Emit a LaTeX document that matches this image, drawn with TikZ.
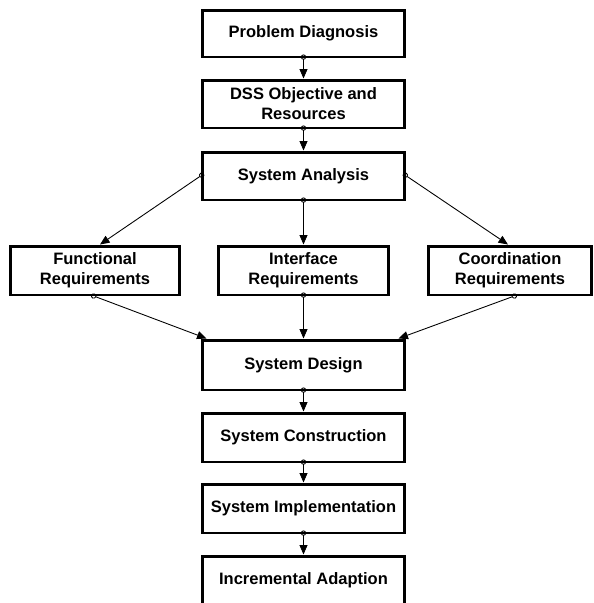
\documentclass[tikz,border=0pt]{standalone}
\usepackage{fontspec}
\setmainfont{Liberation Sans}
\usepackage{tikz}
\usetikzlibrary{arrows.meta,positioning}
\tikzstyle{phase} = [draw, line width=1.7pt, align=center, inner sep=0pt, font=\fontsize{9.4}{11.4}\selectfont\bfseries]
\tikzstyle{flow} = [line width=0.5pt, {Circle[open,length=3pt,line width=0.5pt]}-{Triangle[length=0.19cm,width=0.16cm]}, shorten <=-2.3pt]

\begin{document}
\begin{tikzpicture}[x=0.02cm, y=-0.02cm]
\useasboundingbox (0,0) rectangle (593,603);

% Main column
\node[phase, minimum width=4.06cm, minimum height=0.94cm] (diag) at (303.5,33.5) {Problem Diagnosis};
\node[phase, minimum width=4.06cm, minimum height=0.96cm] (dss) at (303.5,104) {DSS Objective and\\Resources};
\node[phase, minimum width=4.06cm, minimum height=0.96cm] (ana) at (303.5,176) {System Analysis};

% Requirements
\node[phase, minimum width=3.4cm, minimum height=0.98cm] (func) at (95,270.5) {Functional\\Requirements};
\node[phase, minimum width=3.42cm, minimum height=0.98cm] (intf) at (303.5,270.5) {Interface\\Requirements};
\node[phase, minimum width=3.28cm, minimum height=0.98cm] (coord) at (510,270.5) {Coordination\\Requirements};

% Lower column
\node[phase, minimum width=4.06cm, minimum height=1.0cm] (design) at (303.5,365) {System Design};
\node[phase, minimum width=4.06cm, minimum height=0.98cm] (constr) at (303.5,437.5) {System Construction};
\node[phase, minimum width=4.06cm, minimum height=0.98cm] (impl) at (303.5,508.5) {System Implementation};
\node[phase, minimum width=4.06cm, minimum height=0.96cm] (incr) at (303.5,580) {Incremental Adaption};

% Connectors
\draw[flow] (diag) -- (dss);
\draw[flow] (dss) -- (ana);
\draw[flow] (ana.west) -- ([xshift=0.1cm]func.north);
\draw[flow] (ana.south) -- (intf.north);
\draw[flow] (ana.east) -- ([xshift=-0.04cm]coord.north);
\draw[flow] (func.south) -- ([xshift=0.12cm]design.north west);
\draw[flow] (intf.south) -- (design.north);
\draw[flow] ([xshift=0.06cm]coord.south) -- ([xshift=-0.16cm]design.north east);
\draw[flow] (design) -- (constr);
\draw[flow] (constr) -- (impl);
\draw[flow] (impl) -- (incr);
\end{tikzpicture}
\end{document}
